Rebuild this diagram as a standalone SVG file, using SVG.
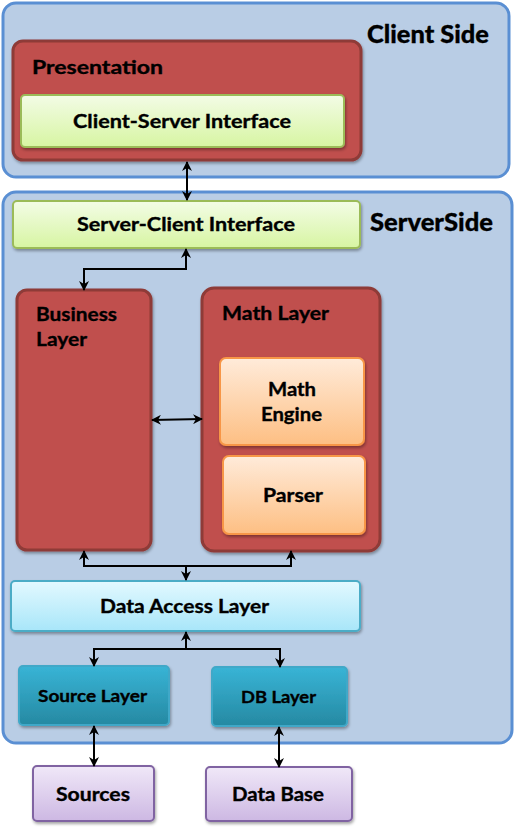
<svg xmlns="http://www.w3.org/2000/svg" width="515" height="833" viewBox="0 0 515 833">
<defs>
<style>
.cont{fill:#B9CDE5;stroke:#5A8FD3;stroke-width:3}
.red{fill:#C0504D;stroke:#8E3A37;stroke-width:3}
.green{fill:url(#gGreen);stroke:#9BBB59;stroke-width:2}
.orange{fill:url(#gOrange);stroke:#F79646;stroke-width:2}
.cyan{fill:url(#gCyan);stroke:#4BACC6;stroke-width:2}
.teal{fill:url(#gTeal);stroke:#40A8C8;stroke-width:2}
.purple{fill:url(#gPurple);stroke:#8064A2;stroke-width:2}
text{font-family:Lato,"Liberation Sans",sans-serif;font-weight:bold;fill:#000;stroke:#000;stroke-width:0.35;font-size:18px}
.title{font-size:25px;font-weight:900;stroke-width:0.3}
.conn path{fill:none;stroke:#000;stroke-width:2}
</style>
<linearGradient id="gGreen" x1="0" y1="0" x2="0" y2="1"><stop offset="0" stop-color="#F3FCE6"/><stop offset="1" stop-color="#D7F5A2"/></linearGradient>
<linearGradient id="gOrange" x1="0" y1="0" x2="0" y2="1"><stop offset="0" stop-color="#FFEBDA"/><stop offset="1" stop-color="#FDBF83"/></linearGradient>
<linearGradient id="gCyan" x1="0" y1="0" x2="0" y2="1"><stop offset="0" stop-color="#E3F9FF"/><stop offset="1" stop-color="#A8E6F9"/></linearGradient>
<linearGradient id="gTeal" x1="0" y1="0" x2="0" y2="1"><stop offset="0" stop-color="#38B4D6"/><stop offset="1" stop-color="#2689A2"/></linearGradient>
<linearGradient id="gPurple" x1="0" y1="0" x2="0" y2="1"><stop offset="0" stop-color="#F0E8F8"/><stop offset="1" stop-color="#CDB8E3"/></linearGradient>
<filter id="sh" x="-10%" y="-10%" width="130%" height="140%"><feDropShadow dx="1" dy="2" stdDeviation="1.5" flood-color="#000" flood-opacity="0.35"/></filter>
<marker id="arr" viewBox="0 0 10 10" refX="9" refY="5" markerWidth="10" markerHeight="10" markerUnits="userSpaceOnUse" orient="auto-start-reverse"><path d="M0,0 L10,5 L0,10 L3,5 z" fill="#000"/></marker>
</defs>

<g id="client-side">
<rect class="cont" x="3" y="3" width="506" height="174" rx="13"/>
<text class="title" x="367" y="43" textLength="122" lengthAdjust="spacingAndGlyphs">Client Side</text>
</g>
<g id="server-side">
<rect class="cont" x="3" y="192" width="509" height="551" rx="13"/>
<text class="title" x="370" y="231" textLength="123" lengthAdjust="spacingAndGlyphs">ServerSide</text>
</g>

<g id="presentation">
<rect class="red" x="13" y="41" width="348" height="119" rx="10" filter="url(#sh)"/>
<text x="32" y="74" textLength="131" lengthAdjust="spacingAndGlyphs">Presentation</text>
</g>
<g id="client-server-interface">
<rect class="green" x="21" y="95" width="323" height="52" rx="4" filter="url(#sh)"/>
<text x="73" y="128" textLength="218" lengthAdjust="spacingAndGlyphs">Client-Server Interface</text>
</g>
<g id="server-client-interface">
<rect class="green" x="13" y="201" width="347" height="47" rx="4" filter="url(#sh)"/>
<text x="77" y="231" textLength="218" lengthAdjust="spacingAndGlyphs">Server-Client Interface</text>
</g>
<g id="business-layer">
<rect class="red" x="17" y="290" width="134" height="260" rx="10" filter="url(#sh)"/>
<text x="36" y="321" textLength="81" lengthAdjust="spacingAndGlyphs">Business</text>
<text x="36" y="346" textLength="51" lengthAdjust="spacingAndGlyphs">Layer</text>
</g>
<g id="math-layer">
<rect class="red" x="202" y="288" width="178" height="263" rx="12" filter="url(#sh)"/>
<text x="222" y="320" textLength="107" lengthAdjust="spacingAndGlyphs">Math Layer</text>
</g>
<g id="math-engine">
<rect class="orange" x="220" y="358" width="144" height="87" rx="6" filter="url(#sh)"/>
<text x="268" y="396" textLength="48" lengthAdjust="spacingAndGlyphs">Math</text>
<text x="261" y="421" textLength="61" lengthAdjust="spacingAndGlyphs">Engine</text>
</g>
<g id="parser">
<rect class="orange" x="223" y="456" width="142" height="78" rx="6" filter="url(#sh)"/>
<text x="263" y="502" textLength="60" lengthAdjust="spacingAndGlyphs">Parser</text>
</g>
<g id="data-access-layer">
<rect class="cyan" x="11" y="581" width="349" height="50" rx="4" filter="url(#sh)"/>
<text x="100" y="613" textLength="169" lengthAdjust="spacingAndGlyphs">Data Access Layer</text>
</g>
<g id="source-layer">
<rect class="teal" x="19" y="666" width="150" height="59" rx="4" filter="url(#sh)"/>
<text x="38" y="702" textLength="109" lengthAdjust="spacingAndGlyphs" style="font-size:17px">Source Layer</text>
</g>
<g id="db-layer">
<rect class="teal" x="212" y="667" width="135" height="59" rx="4" filter="url(#sh)"/>
<text x="241" y="703" textLength="75" lengthAdjust="spacingAndGlyphs" style="font-size:17px">DB Layer</text>
</g>
<g id="sources">
<rect class="purple" x="33" y="766" width="121" height="55" rx="4" filter="url(#sh)"/>
<text x="56" y="801" textLength="74" lengthAdjust="spacingAndGlyphs">Sources</text>
</g>
<g id="data-base">
<rect class="purple" x="206" y="767" width="146" height="54" rx="4" filter="url(#sh)"/>
<text x="232" y="801" textLength="92" lengthAdjust="spacingAndGlyphs">Data Base</text>
</g>

<g id="connectors" class="conn">
<path d="M187,162 L187,200" marker-start="url(#arr)" marker-end="url(#arr)"/>
<path d="M186,249 L186,269 L84,269 L84,290" marker-start="url(#arr)" marker-end="url(#arr)"/>
<path d="M152,420 L202,419" marker-start="url(#arr)" marker-end="url(#arr)"/>
<path d="M84,551 L84,566 L291,566 L291,551" marker-start="url(#arr)" marker-end="url(#arr)"/>
<path d="M186,566 L186,580" marker-end="url(#arr)"/>
<path d="M186,632 L186,649" marker-start="url(#arr)"/>
<path d="M94,666 L94,649 L280,649 L280,667" marker-start="url(#arr)" marker-end="url(#arr)"/>
<path d="M94,726 L94,766" marker-start="url(#arr)" marker-end="url(#arr)"/>
<path d="M279,727 L279,767" marker-start="url(#arr)" marker-end="url(#arr)"/>
</g>
</svg>
